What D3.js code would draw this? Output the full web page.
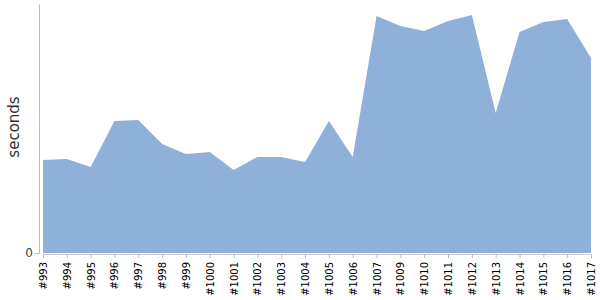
<!doctype html>
<meta charset="utf-8">
<script src="https://d3js.org/d3.v7.min.js"></script>
<style>
body { margin: 0; background: #fff; }
text { font-family: "DejaVu Sans", sans-serif; }
</style>
<body>
</body>
<script>
// build numbers and their durations
var builds = ["#993","#994","#995","#996","#997","#998","#999","#1000","#1001","#1002","#1003","#1004",
              "#1005","#1006","#1007","#1009","#1010","#1011","#1012","#1013","#1014","#1015","#1016","#1017"];
var seconds = [93, 94, 86, 132, 133, 109, 99, 101, 83, 96, 96, 91,
               132, 96, 237, 227, 222, 232, 238, 140, 221, 231, 234, 195];
var yTicks = [0];

var width = 600, height = 300;
var margin = { top: 4, right: 9, bottom: 47, left: 39 };

var svg = d3.select("body").append("svg")
    .attr("width", width).attr("height", height);

var x = d3.scalePoint()
    .domain(builds)
    .range([margin.left + 4, width - margin.right]);
var y = d3.scaleLinear()
    .domain([0, 249])
    .range([height - margin.bottom, margin.top]);

var area = d3.area()
    .x(function(d, i) { return x(builds[i]); })
    .y0(y(0))
    .y1(function(d) { return y(d); });

svg.append("path")
    .attr("d", area(seconds))
    .attr("fill", "#8fb1d9");

// y axis
var yAxis = svg.append("g")
    .attr("transform", "translate(" + margin.left + ",0)")
    .call(d3.axisLeft(y).tickValues(yTicks).tickSize(4).tickSizeOuter(0));
yAxis.select(".domain").attr("stroke", "#bbb");
yAxis.selectAll(".tick line").attr("stroke", "#bbb");
yAxis.selectAll(".tick text").attr("font-size", 12).attr("fill", "#444").attr("x", -6);

// x axis
var xAxis = svg.append("g")
    .attr("transform", "translate(0," + (y(0) + 1) + ")")
    .call(d3.axisBottom(x).tickSize(4).tickSizeOuter(0));
xAxis.select(".domain").attr("stroke", "#ccc");
xAxis.selectAll(".tick line").attr("stroke", "#bbb");
xAxis.selectAll(".tick text")
    .attr("font-size", 10)
    .attr("fill", "#000")
    .attr("transform", "rotate(-90)")
    .attr("text-anchor", "end")
    .attr("x", -8)
    .attr("y", 0)
    .attr("dy", "0.35em");

svg.append("text")
    .attr("transform", "translate(19," + 127 + ") rotate(-90)")
    .attr("text-anchor", "middle")
    .attr("font-size", 15)
    .attr("fill", "#333")
    .text("seconds");
</script>
